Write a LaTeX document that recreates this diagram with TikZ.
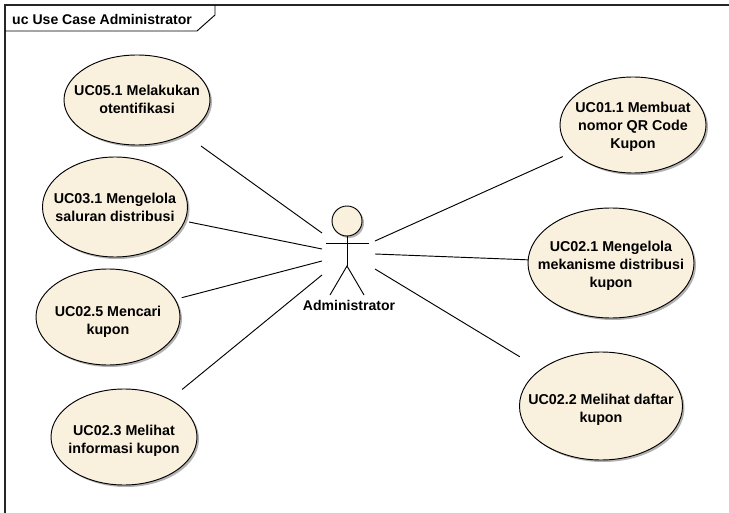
\documentclass[tikz,border=0pt]{standalone}
\usepackage{fontspec}
\setmainfont{Liberation Sans}
\usetikzlibrary{shapes.geometric,shadows}
\definecolor{ucfill}{rgb}{0.98, 0.94, 0.87}
\newcommand{\uctext}[2][0cm]{\makebox[0pt]{\smash{\raisebox{\dimexpr-0.45ex-#1\relax}{\begin{tabular}[c]{@{}c@{}}#2\end{tabular}}}}}
\tikzset{
    ucshadow/.style={drop shadow={shadow xshift=0.06cm, shadow yshift=-0.06cm, fill=black, opacity=0.3}},
    usecase/.style={ellipse, draw, fill=ucfill, ucshadow, inner sep=0pt, outer sep=0pt, line width=0.8pt, font=\bfseries\fontsize{12.2}{15.3}\selectfont},
    assoc/.style={line width=0.8pt},
    stick/.style={line width=0.8pt}
}

\begin{document}
\begin{tikzpicture}[x=0.03cm,y=-0.03cm]
        \useasboundingbox (0,0) rectangle (729,513);
        % frame and tab
        \coordinate (fa) at (5,513);
        \coordinate (fb) at (5,5);
        \coordinate (fc) at (729,5);
        \draw[line width=0.9pt, color=black!85] (fa) -- (fb) -- (fc);
        \draw[line width=0.8pt] (5,31) -- (197,31) -- (215,15) -- (215,5);
        \node[font=\bfseries\fontsize{12}{14}\selectfont, anchor=west, inner sep=0pt] (title) at (12,19) {uc Use Case Administrator};

        \node[usecase, minimum width=4.38cm, minimum height=2.7cm] (UCa) at (137,100) {\uctext[0.02cm]{UC05.1 Melakukan\\otentifikasi}};
        \node[usecase, minimum width=4.35cm, minimum height=3cm] (UCb) at (115,207) {\uctext[0.07cm]{UC03.1 Mengelola\\saluran distribusi}};
        \node[usecase, minimum width=4.32cm, minimum height=2.88cm] (UCc) at (108,317) {\uctext[0.15cm]{UC02.5 Mencari\\kupon}};
        \node[usecase, minimum width=4.38cm, minimum height=2.88cm] (UCd) at (124,437) {\uctext[0.12cm]{UC02.3 Melihat\\informasi kupon}};
        \node[usecase, minimum width=4.38cm, minimum height=2.88cm] (UCe) at (633,125) {\uctext[0.06cm]{UC01.1 Membuat\\nomor QR Code\\Kupon}};
        \node[usecase, minimum width=4.98cm, minimum height=3.3cm] (UCf) at (611,263) {\uctext[0.1cm]{UC02.1 Mengelola\\mekanisme distribusi\\kupon}};
        \node[usecase, minimum width=4.89cm, minimum height=3.24cm] (UCg) at (601,406) {\uctext[0.12cm]{UC02.2 Melihat daftar\\kupon}};

        % actor
        \node[circle, draw, fill=ucfill, ucshadow, inner sep=0pt, outer sep=0pt, minimum size=0.9cm, line width=0.8pt] (head) at (347,221) {};
        \coordinate (armL) at (326,243);
        \coordinate (armR) at (369,243);
        \coordinate (hip) at (347,266);
        \coordinate (footL) at (330,295);
        \coordinate (footR) at (364,295);
        \draw[stick] (armL) -- (armR);
        \draw[stick] (head) -- (hip);
        \draw[stick] (footL) -- (hip) -- (footR);
        \node[font=\bfseries\fontsize{12}{14}\selectfont, inner sep=0pt] (admin) at (349,305) {Administrator};

        % ends beside the actor
        \coordinate (Aa) at (322,233);
        \coordinate (Ab) at (322,249);
        \coordinate (Ac) at (322,261);
        \coordinate (Ad) at (322,275);
        \coordinate (Ae) at (375,241);
        \coordinate (Af) at (375,254);
        \coordinate (Ag) at (375,269);

        \draw[assoc, shorten <=0.61cm] (UCa) -- (Aa);
        \draw[assoc, shorten <=0.14cm] (UCb) -- (Ab);
        \draw[assoc, shorten <=0.21cm] (UCc) -- (Ac);
        \draw[assoc, shorten <=0.48cm] (UCd) -- (Ad);
        \draw[assoc, shorten <=0.33cm] (UCe) -- (Ae);
        \draw[assoc] (UCf) -- (Af);
        \draw[assoc, shorten <=0.74cm] (UCg) -- (Ag);
\end{tikzpicture}
\end{document}
